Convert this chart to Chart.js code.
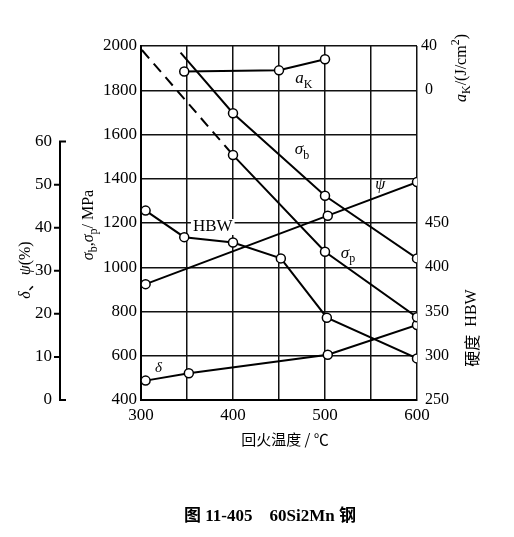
<!DOCTYPE html>
<html>
<head>
<meta charset="utf-8">
<script src="https://cdn.jsdelivr.net/npm/chart.js@4/dist/chart.umd.min.js"></script>
<style>
  html, body { margin: 0; padding: 0; background: #fff; }
  canvas { display: block; }
</style>
</head>
<body>
<canvas id="c" width="514" height="537"></canvas>
<script>
// 回火温度 (°C) 与各项性能
const sbTemp = [343, 400, 500, 600];
const sbVal = [1970, 1696, 1323, 1040];          // σb / MPa
const spTemp = [301, 400, 500, 600];
const spVal = [1982, 1507, 1070, 774];           // σp / MPa
const hbwTemp = [305, 347, 400, 452, 502, 600];
const hbwVal = [464, 434, 428, 410, 343, 297];   // HBW
const akTemp = [347, 450, 500];
const akVal = [17, 18, 28];                      // aK / (J/cm2)
const deltaTemp = [305, 352, 503, 600];
const deltaVal = [4.5, 6.2, 10.5, 17.4];         // δ / %
const psiTemp = [305, 503, 600];
const psiVal = [26.9, 42.8, 50.6];               // ψ / %

const xTicks = [300, 400, 500, 600];
const akTicks = [0, 40];
const pctMaxTick = 60;
const hbwMaxTick = 450;

const SERIF = '"Liberation Serif", "Noto Sans CJK SC", serif';
const CJK = '"Noto Sans CJK SC", sans-serif';

function pts(xs, ys) {
    return xs.map((x, i) => ({ x: x, y: ys[i] }));
}

// 画带上下标的文字
function richText(ctx, parts, cx, cy, rot, size) {
    const fontOf = p => (p.i ? 'italic ' : '') + (p.b ? 'bold ' : '') +
        ((p.sub || p.sup) ? Math.round(size * 0.72) : size) + 'px ' + (p.f || SERIF);
    ctx.save();
    ctx.translate(cx, cy);
    ctx.rotate(rot || 0);
    let w = 0;
    parts.forEach(p => { ctx.font = fontOf(p); w += ctx.measureText(p.t).width; });
    let x = -w / 2;
    ctx.textAlign = 'left';
    ctx.textBaseline = 'middle';
    ctx.fillStyle = '#000';
    parts.forEach(p => {
        ctx.font = fontOf(p);
        const dy = p.sub ? size * 0.32 : (p.sup ? -size * 0.38 : 0);
        ctx.fillText(p.t, x, dy);
        x += ctx.measureText(p.t).width;
    });
    ctx.restore();
    return w;
}

const extras = {
    id: 'extras',
    afterDatasetsDraw(chart) {
        const ctx = chart.ctx;
        const xs = chart.scales.x, ys = chart.scales.y;
        const at = (t, v) => [xs.getPixelForValue(t), ys.getPixelForValue(v)];

        // 曲线旁的标注
        let p = at(378, 1182);
        ctx.font = '17px ' + SERIF;
        const hw = ctx.measureText('HBW').width;
        ctx.fillStyle = '#fff';
        ctx.fillRect(p[0] - hw / 2 - 2, p[1] - 8, hw + 4, 16);
        richText(ctx, [{ t: 'HBW' }], p[0], p[1], 0, 17);
        p = at(477, 1851);
        richText(ctx, [{ t: 'a', i: true }, { t: 'K', sub: true }], p[0], p[1], 0, 17);
        p = at(475, 1530);
        richText(ctx, [{ t: 'σ', i: true }, { t: 'b', sub: true }], p[0], p[1], 0, 17);
        p = at(560, 1372);
        richText(ctx, [{ t: 'ψ', i: true }], p[0], p[1], 0, 16);
        p = at(525, 1064);
        richText(ctx, [{ t: 'σ', i: true }, { t: 'p', sub: true }], p[0], p[1], 0, 17);
        p = at(319, 545);
        richText(ctx, [{ t: 'δ', i: true }], p[0], p[1], 0, 15);
    },
    afterDraw(chart) {
        const ctx = chart.ctx;
        const area = chart.chartArea;

        // δ、ψ 轴线（只画到 60）
        const sp = chart.scales.yPct;
        const ax = sp.right - 1;
        ctx.save();
        ctx.strokeStyle = '#000';
        ctx.lineWidth = 2;
        ctx.beginPath();
        ctx.moveTo(ax, sp.getPixelForValue(0));
        ctx.lineTo(ax, sp.getPixelForValue(pctMaxTick));
        sp.ticks.forEach(t => {
            const y = sp.getPixelForValue(t.value);
            if (t.value === 0 || t.value === pctMaxTick) {
                ctx.moveTo(ax - 1, y); ctx.lineTo(ax + 6, y);
            } else {
                ctx.moveTo(ax - 6, y); ctx.lineTo(ax, y);
            }
        });
        ctx.stroke();
        ctx.restore();

        // aK 刻度
        const sa = chart.scales.yAK;
        ctx.save();
        ctx.font = '16px ' + SERIF;
        ctx.fillStyle = '#000';
        ctx.textAlign = 'center';
        ctx.textBaseline = 'middle';
        akTicks.forEach(v => ctx.fillText(String(v), area.right + 12, sa.getPixelForValue(v)));
        ctx.restore();

        // 轴标题
        const up = -Math.PI / 2;
        richText(ctx, [{ t: 'σ', i: true }, { t: 'b', sub: true }, { t: ',' },
            { t: 'σ', i: true }, { t: 'p', sub: true }, { t: '/ MPa' }], area.left - 52, 225, up, 16);
        richText(ctx, [{ t: 'δ', i: true }, { t: '、', f: CJK },
            { t: 'ψ', i: true }, { t: '(%)' }], 26, 270, up, 16);
        richText(ctx, [{ t: 'a', i: true }, { t: 'K', sub: true }, { t: '/(J/cm' },
            { t: '2', sup: true }, { t: ')' }], area.right + 45, 68, up, 16);
        richText(ctx, [{ t: '硬度', f: CJK }, { t: '  HBW' }], area.right + 55, 328, up, 16);
        richText(ctx, [{ t: '回火温度 / ℃', f: CJK }],
            (area.left + area.right) / 2 + 6, area.bottom + 39, 0, 15);
        richText(ctx, [{ t: '图 ', b: true }, { t: '11-405', b: true }, { t: '    60Si2Mn ', b: true },
            { t: '钢', b: true }], 270, 517, 0, 17);
    }
};

const pointStyle = {
    pointRadius: 4.5,
    pointBackgroundColor: '#fff',
    pointBorderColor: '#000',
    pointBorderWidth: 1.5,
    borderColor: '#000',
    borderWidth: 2,
    tension: 0,
    fill: false
};

new Chart(document.getElementById('c'), {
    type: 'line',
    data: {
        datasets: [
            Object.assign({}, pointStyle, {
                label: 'σb', yAxisID: 'y', data: pts(sbTemp, sbVal),
                pointRadius: [0, 4.5, 4.5, 4.5]
            }),
            Object.assign({}, pointStyle, {
                label: 'σp', yAxisID: 'y', data: pts(spTemp, spVal),
                pointRadius: [0, 4.5, 4.5, 4.5],
                segment: { borderDash: c => c.p0DataIndex === 0 ? [11, 7] : undefined }
            }),
            Object.assign({}, pointStyle, { label: 'HBW', yAxisID: 'yHBW', data: pts(hbwTemp, hbwVal) }),
            Object.assign({}, pointStyle, { label: 'aK', yAxisID: 'yAK', data: pts(akTemp, akVal) }),
            Object.assign({}, pointStyle, { label: 'δ', yAxisID: 'yPct', data: pts(deltaTemp, deltaVal) }),
            Object.assign({}, pointStyle, { label: 'ψ', yAxisID: 'yPct', data: pts(psiTemp, psiVal) })
        ]
    },
    options: {
        responsive: false,
        animation: false,
        devicePixelRatio: 1,
        layout: { padding: { left: 0, right: 0, top: 46, bottom: 0 } },
        plugins: { legend: { display: false }, tooltip: { enabled: false } },
        scales: {
            x: {
                type: 'linear', min: 300, max: 600,
                ticks: {
                    stepSize: 50, autoSkip: false, maxRotation: 0, padding: 5, color: '#000',
                    font: { family: SERIF, size: 17 },
                    callback: v => xTicks.includes(v) ? String(v) : ''
                },
                grid: { color: '#111', lineWidth: 1.5, drawTicks: false },
                border: { color: '#000', width: 2 },
                afterFit: s => { s.height = 137; }
            },
            y: {
                position: 'left', weight: 0, min: 400, max: 2000,
                ticks: {
                    stepSize: 200, padding: 4, color: '#000', font: { family: SERIF, size: 17 },
                    callback: v => String(v)
                },
                grid: { color: '#111', lineWidth: 1.5, drawTicks: false },
                border: { color: '#000', width: 2 },
                afterFit: s => { s.width = 80; }
            },
            yPct: {
                position: 'left', weight: 1, min: 0, max: 82.2,
                ticks: {
                    stepSize: 10, padding: 9, color: '#000', font: { family: SERIF, size: 17 },
                    callback: v => String(v)
                },
                afterBuildTicks: s => { s.ticks = s.ticks.filter(t => t.value <= pctMaxTick); },
                grid: { display: false, drawTicks: false },
                border: { display: false },
                afterFit: s => { s.width = 61; }
            },
            yHBW: {
                position: 'right', min: 250, max: 650,
                ticks: {
                    stepSize: 50, padding: 8, color: '#000', font: { family: SERIF, size: 16 },
                    callback: v => String(v)
                },
                afterBuildTicks: s => { s.ticks = s.ticks.filter(t => t.value <= hbwMaxTick); },
                grid: { display: false, drawTicks: false },
                border: { display: false },
                afterFit: s => { s.width = 97; }
            },
            yAK: {
                display: false, min: -280, max: 40
            }
        }
    },
    plugins: [extras]
});
</script>
</body>
</html>
